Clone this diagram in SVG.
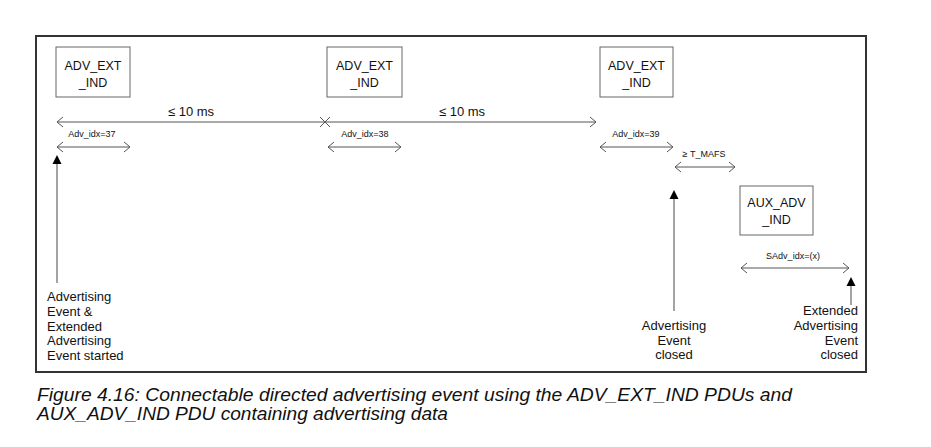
<svg xmlns="http://www.w3.org/2000/svg" width="931" height="447" viewBox="0 0 931 447">
<style>
.frame{fill:none;stroke:#333;stroke-width:2}
.box{fill:#fff;stroke:#666;stroke-width:1}
.lbl{font-family:"Liberation Sans",Arial,sans-serif;font-size:12.5px;fill:#111;text-anchor:middle}
.sm{font-family:"Liberation Sans",Arial,sans-serif;font-size:9px;fill:#111;text-anchor:middle}
.ms{font-family:"Liberation Sans",Arial,sans-serif;font-size:13px;fill:#111;text-anchor:middle}
.note{font-family:"Liberation Sans",Arial,sans-serif;font-size:13px;fill:#111}
.cap{font-family:"Liberation Sans",Arial,sans-serif;font-size:18px;font-style:italic;fill:#111}
.dim{stroke:#555;stroke-width:1;fill:none}
.up{stroke:#666;stroke-width:1.2;fill:none}
</style>
<defs>
<marker id="chev" viewBox="-8 -6 10 12" markerWidth="10" markerHeight="12" refX="0" refY="0" orient="auto-start-reverse" markerUnits="userSpaceOnUse">
<path d="M-6,-5 L0,0 L-6,5" fill="none" stroke="#555" stroke-width="1"/>
</marker>
<marker id="tri" viewBox="0 -5 10 10" markerWidth="10" markerHeight="10" refX="0" refY="0" orient="auto" markerUnits="userSpaceOnUse">
<path d="M0,-4.5 L9,0 L0,4.5 Z" fill="#000"/>
</marker>
</defs>
<rect class="frame" x="36" y="36" width="830" height="336"/>
<g id="box1"><rect class="box" x="56" y="47" width="74" height="50"/><text class="lbl" x="93" y="70">ADV_EXT</text><text class="lbl" x="93" y="87">_IND</text></g>
<g id="box2"><rect class="box" x="327" y="47" width="75" height="50"/><text class="lbl" x="364.5" y="70">ADV_EXT</text><text class="lbl" x="364.5" y="87">_IND</text></g>
<g id="box3"><rect class="box" x="600" y="47" width="73" height="50"/><text class="lbl" x="636.5" y="70">ADV_EXT</text><text class="lbl" x="636.5" y="87">_IND</text></g>
<g id="aux"><rect class="box" x="740" y="186" width="73" height="49"/><text class="lbl" x="776.5" y="207">AUX_ADV</text><text class="lbl" x="776.5" y="224">_IND</text></g>
<g id="connectors">
<line class="dim" x1="57" y1="122" x2="596" y2="122" marker-start="url(#chev)" marker-end="url(#chev)"/>
<path class="dim" d="M320,117 L330,127 M320,127 L330,117"/>
<line class="dim" x1="57" y1="147" x2="130" y2="147" marker-start="url(#chev)" marker-end="url(#chev)"/>
<line class="dim" x1="328" y1="147" x2="401" y2="147" marker-start="url(#chev)" marker-end="url(#chev)"/>
<line class="dim" x1="600" y1="147" x2="673" y2="147" marker-start="url(#chev)" marker-end="url(#chev)"/>
<line class="dim" x1="675" y1="167" x2="735" y2="167" marker-start="url(#chev)" marker-end="url(#chev)"/>
<line class="dim" x1="741" y1="268" x2="849" y2="268" marker-start="url(#chev)" marker-end="url(#chev)"/>
<line class="up" x1="57" y1="283" x2="57" y2="164" marker-end="url(#tri)"/>
<line class="up" x1="674" y1="311" x2="674" y2="199" marker-end="url(#tri)"/>
<line class="up" x1="851" y1="305" x2="851" y2="286" marker-end="url(#tri)"/>
</g>
<g id="labels">
<text class="ms" x="191" y="116">≤ 10 ms</text>
<text class="ms" x="462" y="116">≤ 10 ms</text>
<text class="sm" x="92" y="137">Adv_idx=37</text>
<text class="sm" x="365" y="137">Adv_idx=38</text>
<text class="sm" x="636" y="137">Adv_idx=39</text>
<text class="sm" x="704" y="157">≥ T_MAFS</text>
<text class="sm" x="793" y="259">SAdv_idx=(x)</text>
</g>
<g id="start-note"><text class="note" x="47" y="301">Advertising</text><text class="note" x="47" y="316">Event &amp;</text><text class="note" x="47" y="331">Extended</text><text class="note" x="47" y="345">Advertising</text><text class="note" x="47" y="360">Event started</text></g>
<g id="closed-note"><text class="note" x="674" y="330" text-anchor="middle">Advertising</text><text class="note" x="674" y="345" text-anchor="middle">Event</text><text class="note" x="674" y="359" text-anchor="middle">closed</text></g>
<g id="ext-closed-note"><text class="note" x="858" y="315" text-anchor="end">Extended</text><text class="note" x="858" y="330" text-anchor="end">Advertising</text><text class="note" x="858" y="345" text-anchor="end">Event</text><text class="note" x="858" y="359" text-anchor="end">closed</text></g>
<text class="cap" x="37" y="401" textLength="755" lengthAdjust="spacingAndGlyphs">Figure 4.16:  Connectable directed advertising event using the ADV_EXT_IND PDUs and</text>
<text class="cap" x="37" y="420" textLength="411" lengthAdjust="spacingAndGlyphs">AUX_ADV_IND PDU containing advertising data</text>
</svg>
